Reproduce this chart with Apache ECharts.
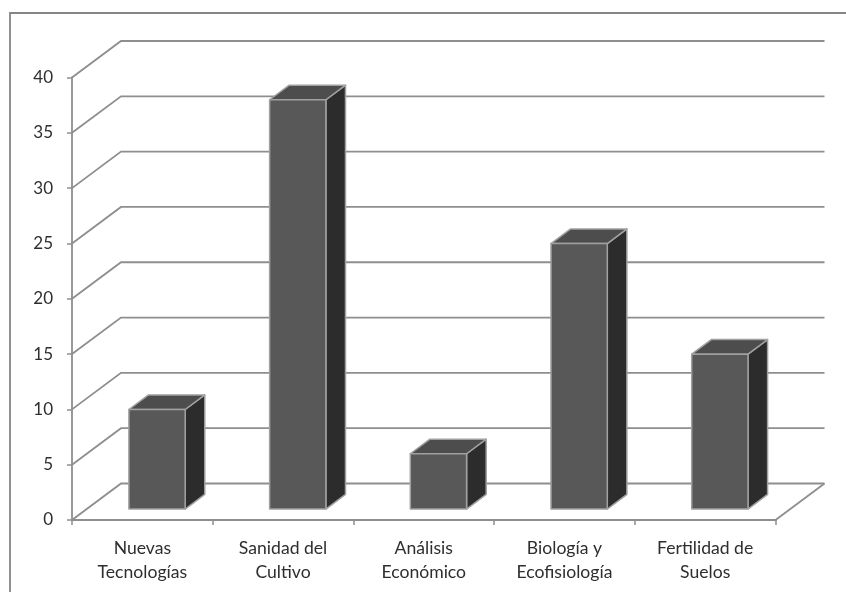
<!DOCTYPE html>
<html>
<head>
<meta charset="utf-8">
<style>html,body{margin:0;padding:0;background:#fff}#c{width:846px;height:592px}</style>
<script src="https://cdn.jsdelivr.net/npm/echarts@6/dist/echarts.min.js"></script>
</head>
<body>
<div id="c"></div>
<script>
var categories = ["Nuevas\nTecnologías", "Sanidad del\nCultivo", "Análisis\nEconómico", "Biología y\nEcofisiología", "Fertilidad de\nSuelos"];
var values = [9, 37, 5, 24, 14];
var gridTicks = [0, 5, 10, 15, 20, 25, 30, 35, 40];

var DX = 49, DY = -36.5;
var LINE = '#8e8e8e', EDGE = '#a0a0a0';
var chart = echarts.init(document.getElementById('c'), null, {renderer: 'canvas'});

function wallItem(params, api) {
  var v = api.value(0);
  var band = api.size([1, 0])[0];
  var p0 = api.coord([0, v]);
  var left = p0[0] - band / 2;
  var right = left + band * categories.length;
  var y = p0[1];
  var children = [];
  var style = {stroke: LINE, lineWidth: 1.8, fill: null};
  children.push({type: 'polyline', shape: {points: [[left, y], [left + DX, y + DY], [right + DX, y + DY]]}, style: style});
  if (v === 0) {
    children.push({type: 'line', shape: {x1: right, y1: y, x2: right + DX, y2: y + DY}, style: style});
  }
  return {type: 'group', children: children};
}

function barItem(params, api) {
  var i = api.value(0), v = api.value(1);
  var band = api.size([1, 0])[0];
  var w = band * 0.4;
  var base = api.coord([i, 0]);
  var top = api.coord([i, v]);
  var f = 0.3, d = 0.4;
  var x0 = base[0] - w / 2 + DX * f, x1 = x0 + w;
  var yb = base[1] + DY * f, yt = top[1] + DY * f;
  var ox = DX * d, oy = DY * d;
  var edge = {stroke: EDGE, lineWidth: 1.5, lineJoin: 'round'};
  return {type: 'group', children: [
    {type: 'polygon', shape: {points: [[x1, yb], [x1 + ox, yb + oy], [x1 + ox, yt + oy], [x1, yt]]},
      style: Object.assign({fill: '#2c2c2c'}, edge)},
    {type: 'polygon', shape: {points: [[x0, yt], [x1, yt], [x1 + ox, yt + oy], [x0 + ox, yt + oy]]},
      style: Object.assign({fill: '#4d4d4d'}, edge)},
    {type: 'rect', shape: {x: x0, y: yt, width: w, height: yb - yt},
      style: Object.assign({fill: '#585858'}, edge)}
  ]};
}

chart.setOption({
  animation: false,
  backgroundColor: '#fff',
  textStyle: {fontFamily: 'Lato'},
  grid: {left: 72, right: 70.5, top: 77.5, bottom: 72},
  xAxis: {
    type: 'category',
    data: categories,
    axisLine: {lineStyle: {color: LINE, width: 1.8}},
    axisTick: {show: true, alignWithLabel: false, length: 5, lineStyle: {color: LINE, width: 1.5}},
    axisLabel: {color: '#2e2e2e', fontFamily: 'Lato', fontSize: 17.6, lineHeight: 24, margin: 16, interval: 0}
  },
  yAxis: {
    type: 'value', min: 0, max: 40, interval: 5,
    axisLine: {show: true, lineStyle: {color: LINE, width: 1.8}},
    axisTick: {show: true, length: 5, lineStyle: {color: LINE, width: 1.5}},
    axisLabel: {color: '#2e2e2e', fontFamily: 'Lato', fontSize: 17, margin: 19},
    splitLine: {show: false}
  },
  graphic: [{
    type: 'polyline', z: 0, silent: true,
    shape: {points: [[10, 592], [10, 13], [846, 13]]},
    style: {stroke: '#868686', lineWidth: 1.8, fill: null}
  }],
  series: [
    {type: 'custom', clip: false, z: 1, coordinateSystem: 'cartesian2d', renderItem: wallItem,
      encode: {y: 0}, data: gridTicks.map(function (t) { return [t]; }), silent: true},
    {type: 'custom', clip: false, z: 2, coordinateSystem: 'cartesian2d', renderItem: barItem,
      encode: {x: 0, y: 1}, data: values.map(function (v, i) { return [i, v]; }), silent: true}
  ]
});
</script>
</body>
</html>
